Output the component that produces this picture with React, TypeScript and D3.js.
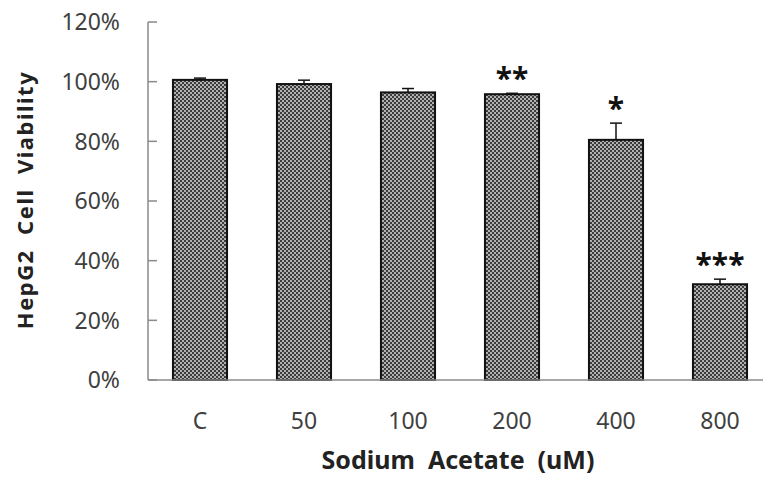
import React, { useEffect, useRef } from 'react';
import * as d3 from 'd3';

const categories = ['C', '50', '100', '200', '400', '800'];
const viability = [100.6, 99.2, 96.4, 95.8, 80.5, 32.1];
const errors = [0.6, 1.3, 1.3, 0.3, 5.6, 1.7];
const stars = ['', '', '', '**', '*', '***'];
const yTicks = [0, 20, 40, 60, 80, 100, 120];

const App = () => {
  const ref = useRef<SVGSVGElement | null>(null);

  useEffect(() => {
    const svg = d3.select(ref.current);
    svg.selectAll('*').remove();

    const width = 763;
    const height = 481;
    const x0 = 148;
    const font = "'Noto Sans', 'Open Sans', sans-serif";

    const x = d3.scaleBand<string>()
      .domain(categories)
      .range([x0, x0 + 6 * 104])
      .paddingInner(0.48)
      .paddingOuter(0.24);

    const y = d3.scaleLinear().domain([0, 120]).range([380, 22]);

    // checker pattern for bars
    const defs = svg.append('defs');
    const pat = defs.append('pattern')
      .attr('id', 'checker')
      .attr('patternUnits', 'userSpaceOnUse')
      .attr('width', 4)
      .attr('height', 4);
    pat.append('rect').attr('width', 4).attr('height', 4).attr('fill', '#b0b0b0');
    pat.append('rect').attr('width', 2).attr('height', 2).attr('fill', '#3c3c3c');
    pat.append('rect').attr('x', 2).attr('y', 2).attr('width', 2).attr('height', 2).attr('fill', '#3c3c3c');

    svg.append('rect').attr('width', width).attr('height', height).attr('fill', '#fff');

    // y axis
    svg.append('line')
      .attr('x1', x0).attr('x2', x0)
      .attr('y1', y(120)).attr('y2', y(0))
      .attr('stroke', '#8a8a8a').attr('stroke-width', 1.5);

    svg.selectAll('.ytick')
      .data(yTicks)
      .enter()
      .append('line')
      .attr('x1', x0).attr('x2', x0 + 9)
      .attr('y1', d => y(d)).attr('y2', d => y(d))
      .attr('stroke', '#8a8a8a').attr('stroke-width', 1.5);

    svg.selectAll('.ylab')
      .data(yTicks)
      .enter()
      .append('text')
      .attr('x', 120)
      .attr('y', d => y(d))
      .attr('dy', '0.36em')
      .attr('text-anchor', 'end')
      .style('font-family', font)
      .style('font-size', '23px')
      .style('fill', '#404040')
      .text(d => `${d}%`);

    // bars
    const bars = categories.map((c, i) => ({ c, v: viability[i], e: errors[i], s: stars[i] }));

    svg.selectAll('.bar')
      .data(bars)
      .enter()
      .append('rect')
      .attr('x', d => x(d.c)!)
      .attr('y', d => y(d.v))
      .attr('width', x.bandwidth())
      .attr('height', d => y(0) - y(d.v))
      .attr('fill', 'url(#checker)')
      .attr('stroke', '#111')
      .attr('stroke-width', 2);

    // error bars
    const eb = svg.selectAll('.err')
      .data(bars)
      .enter()
      .append('g');
    eb.append('line')
      .attr('x1', d => x(d.c)! + x.bandwidth() / 2)
      .attr('x2', d => x(d.c)! + x.bandwidth() / 2)
      .attr('y1', d => y(d.v))
      .attr('y2', d => y(d.v + d.e))
      .attr('stroke', '#111').attr('stroke-width', 1.5);
    eb.append('line')
      .attr('x1', d => x(d.c)! + x.bandwidth() / 2 - 6)
      .attr('x2', d => x(d.c)! + x.bandwidth() / 2 + 6)
      .attr('y1', d => y(d.v + d.e))
      .attr('y2', d => y(d.v + d.e))
      .attr('stroke', '#111').attr('stroke-width', 1.5);

    // significance stars
    svg.selectAll('.star')
      .data(bars)
      .enter()
      .append('text')
      .attr('x', d => x(d.c)! + x.bandwidth() / 2)
      .attr('y', d => y(d.v + d.e))
      .attr('dy', -4)
      .attr('text-anchor', 'middle')
      .style('font-family', font)
      .style('font-size', '30px')
      .style('font-weight', 'bold')
      .style('fill', '#111')
      .text(d => d.s);

    // x axis
    svg.append('line')
      .attr('x1', x0).attr('x2', width)
      .attr('y1', y(0)).attr('y2', y(0))
      .attr('stroke', '#8a8a8a').attr('stroke-width', 1.5);

    svg.selectAll('.xlab')
      .data(categories)
      .enter()
      .append('text')
      .attr('x', d => x(d)! + x.bandwidth() / 2)
      .attr('y', 421)
      .attr('dy', '0.36em')
      .attr('text-anchor', 'middle')
      .style('font-family', font)
      .style('font-size', '23px')
      .style('fill', '#404040')
      .text(d => d);

    // axis titles
    svg.append('text')
      .attr('x', 458)
      .attr('y', 460)
      .attr('dy', '0.36em')
      .attr('text-anchor', 'middle')
      .attr('xml:space', 'preserve')
      .style('font-family', font)
      .style('font-size', '25px')
      .style('font-weight', 'bold')
      .style('fill', '#222')
      .text('Sodium  Acetate  (uM)');

    svg.append('text')
      .attr('transform', 'translate(25, 200) rotate(-90)')
      .attr('dy', '0.36em')
      .attr('text-anchor', 'middle')
      .attr('xml:space', 'preserve')
      .style('font-family', font)
      .style('font-size', '22px')
      .style('font-weight', 'bold')
      .style('letter-spacing', '1.5px')
      .style('fill', '#222')
      .text('HepG2  Cell  Viability');
  }, []);

  return (
    <svg
      ref={ref}
      width={763}
      height={481}
      style={{ position: 'absolute', left: 0, top: 0, display: 'block' }}
    />
  );
};

export default App;
